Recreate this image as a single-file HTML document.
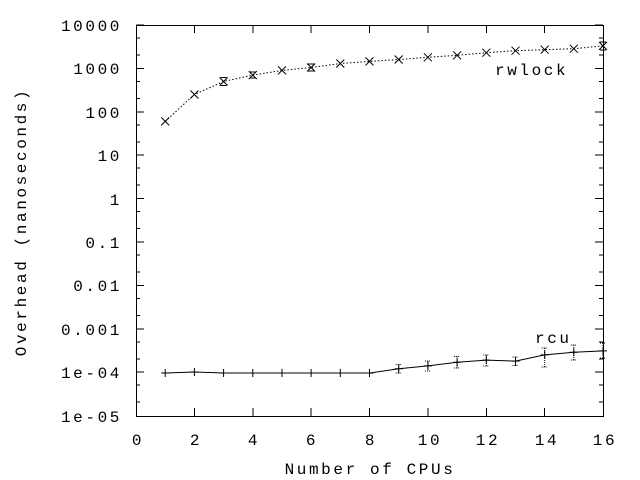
<!DOCTYPE html>
<html><head><style>body{margin:0;background:#fff}svg{display:block}
text{font-family:"Liberation Mono","DejaVu Sans Mono",monospace;font-size:16px;letter-spacing:2.6px;fill:#000}</style></head>
<body>
<svg width="640" height="480" viewBox="0 0 640 480" xmlns="http://www.w3.org/2000/svg">
<g stroke="#000" stroke-width="1" fill="none" shape-rendering="crispEdges">
<rect x="136.5" y="25.5" width="467" height="391"/>
<path d="M136 25h8M136 68.4h8M136 111.8h8M136 155.2h8M136 198.6h8M136 242h8M136 285.4h8M136 328.8h8M136 372.2h8
M603 25h-8M603 68.4h-8M603 111.8h-8M603 155.2h-8M603 198.6h-8M603 242h-8M603 285.4h-8M603 328.8h-8M603 372.2h-8
M136 38h4M136 55h4M136 81.5h4M136 98.5h4M136 125h4M136 142h4M136 168h4M136 185h4M136 211.5h4M136 228.5h4M136 255h4M136 272h4M136 298.5h4M136 315.5h4M136 342h4M136 359h4M136 385h4M136 402h4
M603 38h-4M603 55h-4M603 81.5h-4M603 98.5h-4M603 125h-4M603 142h-4M603 168h-4M603 185h-4M603 211.5h-4M603 228.5h-4M603 255h-4M603 272h-4M603 298.5h-4M603 315.5h-4M603 342h-4M603 359h-4M603 385h-4M603 402h-4
M194.4 416v-8M252.8 416v-8M311.1 416v-8M369.5 416v-8M427.9 416v-8M486.3 416v-8M544.7 416v-8
M194.4 25v8M252.8 25v8M311.1 25v8M369.5 25v8M427.9 25v8M486.3 25v8M544.7 25v8"/>
</g>
<g text-anchor="end">
<text x="122" y="31">10000</text><text x="122" y="74">1000</text><text x="122" y="118">100</text>
<text x="122" y="161">10</text><text x="122" y="205">1</text><text x="122" y="248">0.1</text>
<text x="122" y="291">0.01</text><text x="122" y="335">0.001</text><text x="122" y="378">1e-04</text>
<text x="122" y="422">1e-05</text>
</g>
<g text-anchor="middle">
<text x="138" y="445">0</text><text x="196" y="445">2</text><text x="254" y="445">4</text><text x="312" y="445">6</text>
<text x="371" y="445">8</text><text x="430" y="445">10</text><text x="488" y="445">12</text><text x="547" y="445">14</text><text x="605" y="445">16</text>
<text x="370" y="474">Number of CPUs</text>
<text transform="translate(26,222) rotate(-90)">Overhead (nanoseconds)</text>
</g>
<text x="495" y="75">rwlock</text>
<text x="535" y="343">rcu</text>
<polyline fill="none" stroke="#000" stroke-dasharray="1.5,2" points="165.2,121.4 194.4,94.5 223.6,81.5 252.8,75.1 282,70.4 311.1,67.5 340.3,63.5 369.5,61.4 398.7,59.5 427.9,57.3 457.1,55.3 486.3,52.7 515.5,50.7 544.7,49.7 573.8,48.7 603,45.9"/>
<g stroke="#000" fill="none">
<path d="M161.2 117.4l8 8M161.2 125.4l8-8 M190.4 90.5l8 8M190.4 98.5l8-8 M219.6 77.5l8 8M219.6 85.5l8-8 M248.8 71.1l8 8M248.8 79.1l8-8 M278 66.4l8 8M278 74.4l8-8 M307.1 63.5l8 8M307.1 71.5l8-8 M336.3 59.5l8 8M336.3 67.5l8-8 M365.5 57.4l8 8M365.5 65.4l8-8 M394.7 55.5l8 8M394.7 63.5l8-8 M423.9 53.3l8 8M423.9 61.3l8-8 M453.1 51.3l8 8M453.1 59.3l8-8 M482.3 48.7l8 8M482.3 56.7l8-8 M511.5 46.7l8 8M511.5 54.7l8-8 M540.7 45.7l8 8M540.7 53.7l8-8 M569.8 44.7l8 8M569.8 52.7l8-8 M599 41.9l8 8M599 49.9l8-8"/>
<path d="M220.6 77.5h6M220.6 85.5h6M249.8 72h6M249.8 78h6M308 64h6M308 71h6M600 42h6M600 50h6"/>
</g>
<polyline fill="none" stroke="#000" points="165.2,373 194.4,372 223.6,373 252.8,373 282,373 311.1,373 340.3,373 369.5,373 398.7,368.8 427.9,365.9 457.1,362.2 486.3,360.1 515.5,361.1 544.7,354.9 573.8,352.2 603,350.9"/>
<g stroke="#000" fill="none">
<path d="M161.2 373h8M165.2 369v8 M190.4 372h8M194.4 368v8 M219.6 373h8M223.6 369v8 M248.8 373h8M252.8 369v8 M278 373h8M282 369v8 M307.1 373h8M311.1 369v8 M336.3 373h8M340.3 369v8 M365.5 373h8M369.5 369v8 M394.7 368.8h8M398.7 364.8v8 M423.9 365.9h8M427.9 361.9v8 M453.1 362.2h8M457.1 358.2v8 M482.3 360.1h8M486.3 356.1v8 M511.5 361.1h8M515.5 357.1v8 M540.7 354.9h8M544.7 350.9v8 M569.8 352.2h8M573.8 348.2v8 M599 350.9h8M603 346.9v8"/>
</g>
<g stroke="#000" fill="none" stroke-dasharray="1,1">
<path d="M395.7 364.5h6M395.7 373h6M424.9 361h6M424.9 371h6M454.1 356.5h6M454.1 368h6M483.3 355h6M483.3 366h6M512.5 357h6M512.5 365.5h6M541.7 348h6M541.7 367h6M570.8 345h6M570.8 360h6M600 343h6M600 358h6
M398.7 364.5v9M427.9 361v10M457.1 356.5v12M486.3 355v11M515.5 357v9M544.7 348v19M573.8 345v15M603 343v15"/>
</g>
</svg>
</body></html>
